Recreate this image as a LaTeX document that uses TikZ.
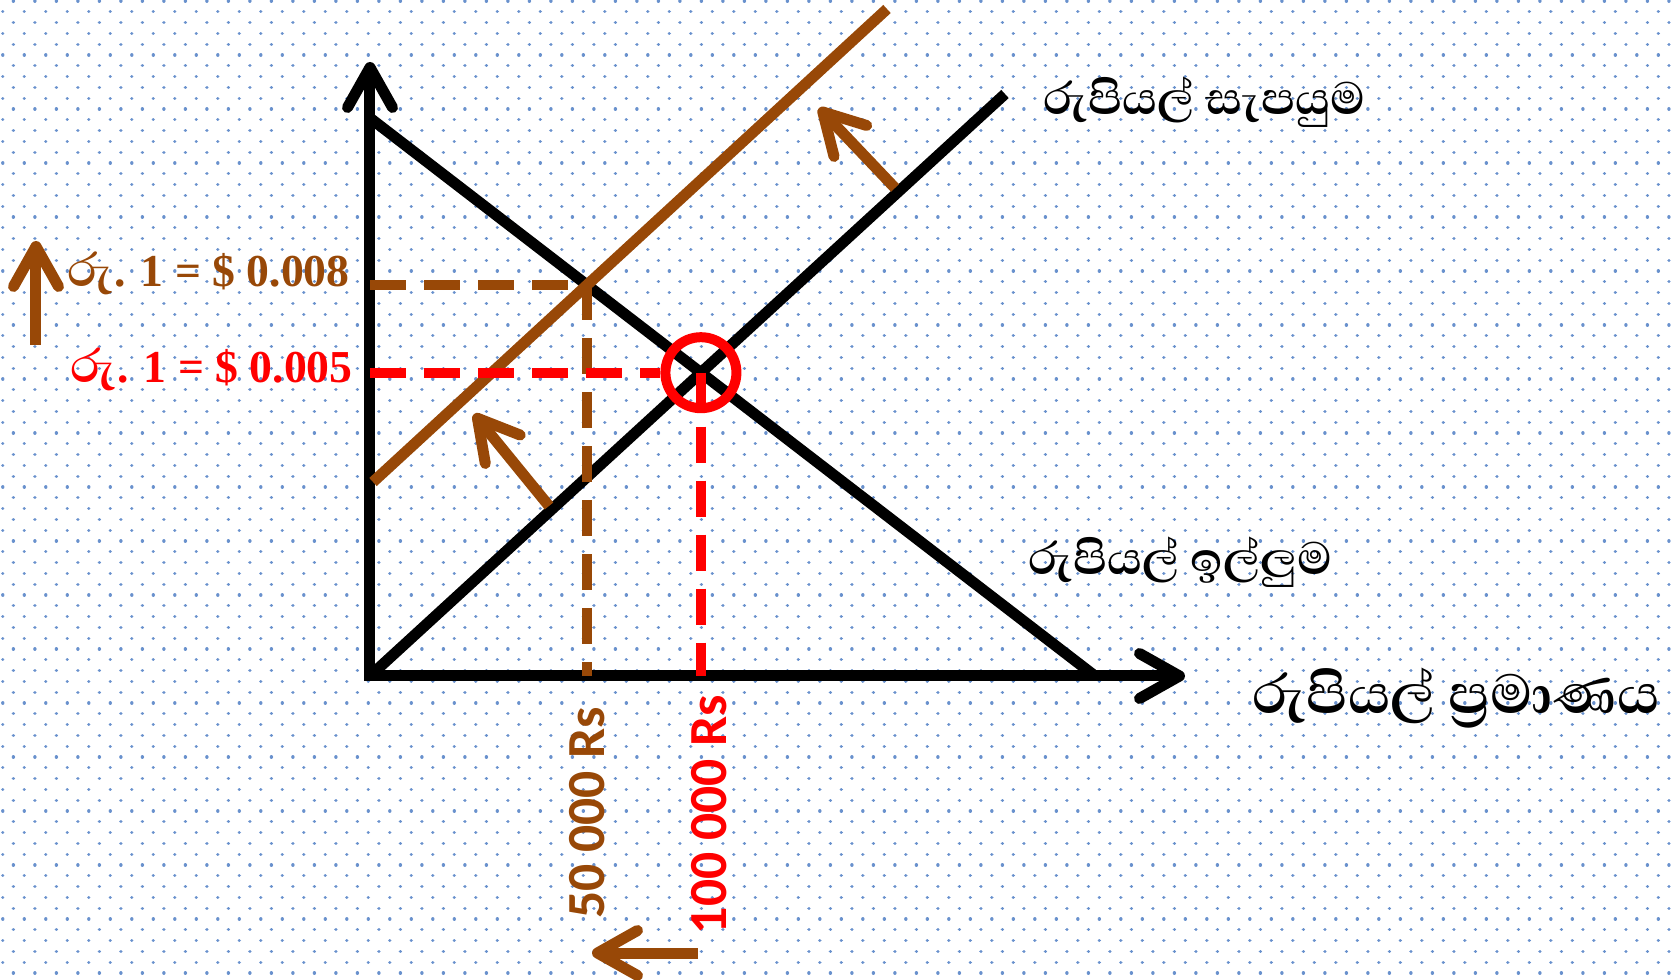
\documentclass[tikz,border=0pt]{standalone}
\usepackage{fontspec}
\setmainfont{Liberation Serif}
\newfontfamily\sinfont[Script=Sinhala]{Abhaya Libre}
\newfontfamily\calfont{Carlito}
\usetikzlibrary{arrows.meta,calc}
\definecolor{rsbrown}{RGB}{152,72,7}
\definecolor{dotblue}{RGB}{105,145,205}

\begin{document}
\begin{tikzpicture}[>={Straight Barb[round,length=0.8cm,width=0.9cm]}]
\tikzstyle{axisline}=[line width=0.22cm,<->]
\tikzstyle{blackline}=[line width=0.22cm]
\tikzstyle{guide}=[line width=0.2cm,dash pattern=on 0.72cm off 0.36cm]
\tikzstyle{movearrow}=[line width=0.22cm,->,rsbrown]
\tikzstyle{dotrow}=[dotblue,line width=0.065cm,line cap=round,dash pattern=on 0.1pt off 0.4265cm]
\tikzstyle{price}=[anchor=base east,inner sep=0,font=\fontsize{26}{30}\selectfont\bfseries]
\tikzstyle{amount}=[rotate=90,anchor=east,inner sep=0,font=\calfont\bfseries\fontsize{30.5}{34}\selectfont]
\tikzstyle{curvename}=[anchor=base west,inner sep=0,font=\sinfont\bfseries\fontsize{33}{38}\selectfont]
\newcommand\ru{{\sinfont\fontsize{34}{38}\selectfont රු}}
\useasboundingbox (-7.40,-6.08) rectangle (26.02,13.52);
% dotted paper
\foreach \k in {0,...,90}{
  \pgfmathsetmacro\yy{13.50-0.216*\k}
  \pgfmathsetmacro\xx{mod(\k,2)==0 ? -7.134 : -7.346}
  \draw[dotrow] (\xx,\yy) -- (26.1,\yy);
}
\coordinate (O) at (0,0);
\coordinate (D1) at (0,11.16);
\coordinate (D2) at (14.5,0);
\coordinate (S2) at (12.7,11.64);
\coordinate (B1) at (0.06,3.88);
\coordinate (B2) at (10.34,13.34);
\coordinate (E) at (intersection of D1--D2 and O--S2);
\coordinate (E2) at (intersection of D1--D2 and B1--B2);
% axes and curves
\draw[axisline] (0,12.28) -- (O) -- (16.3,0);
\draw[blackline] (D1) -- (D2);
\draw[blackline] (O) -- (S2);
\draw[blackline,rsbrown] (B1) -- (B2);
% old and new rate
\draw[guide,rsbrown] (O |- E2) -- (E2) -- (E2 |- O);
\node[circle,draw=red,line width=0.2cm,minimum size=1.42cm,inner sep=0] (eq) at (E) {};
\draw[guide,red] (O |- E) -- (eq.west);
\draw[guide,red] (E) -- (E |- O);
\node[price,text=rsbrown] (rate2) at (-0.4,7.78) {\ru. 1 = \$ 0.008};
\node[price,text=red] (rate1) at (-0.34,5.86) {\ru. 1 = \$ 0.005};
\node[amount,text=rsbrown] (amt2) at (4.34,-0.62) {50 000 Rs};
\node[amount,text=red] (amt1) at (6.78,-0.38) {100 000 Rs};
\node[curvename] (sup) at (13.46,11.22) {රුපියල් සැපයුම};
\node[curvename] (dem) at (13.16,2.02) {රුපියල් ඉල්ලුම};
\node[curvename,font=\sinfont\bfseries\fontsize{40}{46}\selectfont] (qty) at (17.64,-0.76) {රුපියල් ප්^^^^200dරමාණය};
% shifts
\draw[movearrow] (3.58,3.40) -- (2.08,5.24);
\draw[movearrow] (10.5,9.76) -- (8.98,11.36);
\draw[movearrow] (-6.68,6.62) -- (-6.68,8.70);
\draw[movearrow] (6.56,-5.54) -- (4.44,-5.54);
\end{tikzpicture}
\end{document}
